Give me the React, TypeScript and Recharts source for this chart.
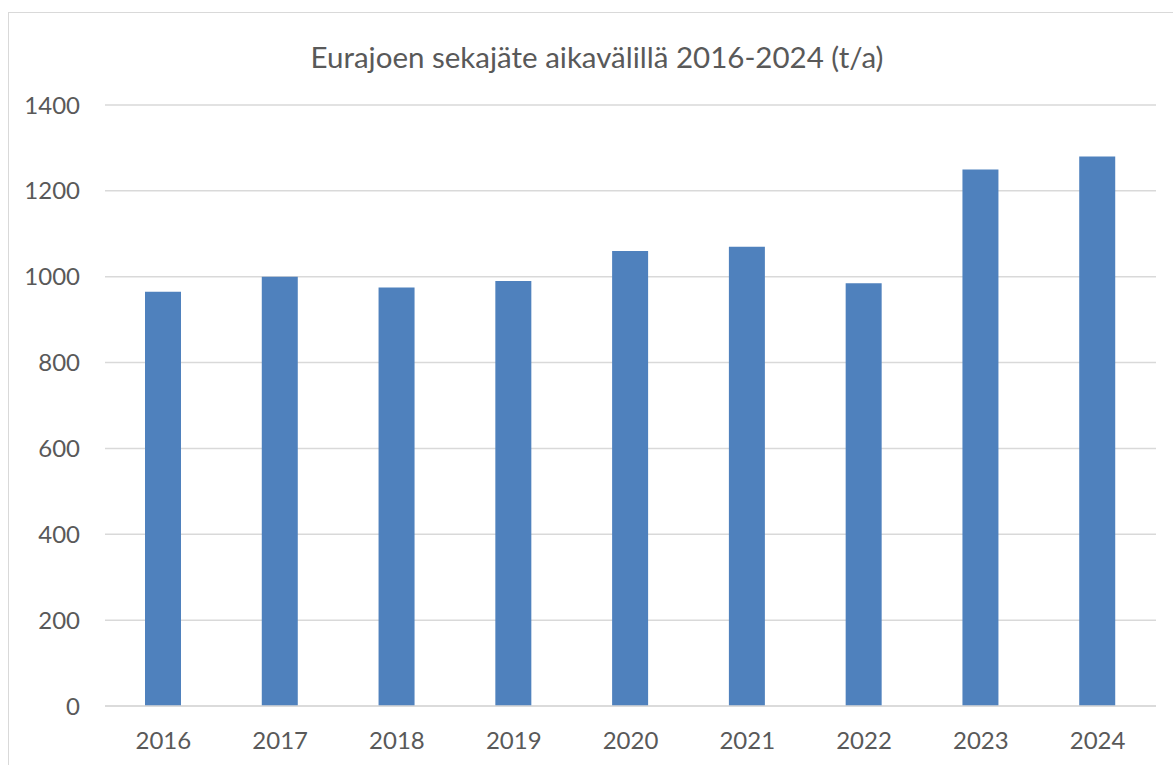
import React from 'react';
import { BarChart, Bar, XAxis, YAxis, CartesianGrid } from 'recharts';

const years = ['2016', '2017', '2018', '2019', '2020', '2021', '2022', '2023', '2024'];
const tonnes = [965, 1000, 975, 990, 1060, 1070, 985, 1250, 1280];
const yTicks = [0, 200, 400, 600, 800, 1000, 1200, 1400];

const data = years.map((year, i) => ({ year, value: tonnes[i] }));

const FONT = 'Lato, "Open Sans", sans-serif';
const TEXT = '#595959';
const GRID = '#d9d9d9';

export default function App() {
  return (
    <div
      style={{
        position: 'absolute',
        left: 8,
        top: 12,
        width: 1165,
        height: 753,
        borderTop: `1px solid ${GRID}`,
        borderLeft: `1px solid ${GRID}`,
        boxSizing: 'border-box',
        overflow: 'hidden',
        background: '#fff',
        fontFamily: FONT,
      }}
    >
      <div
        style={{
          position: 'absolute',
          left: 6,
          top: 29,
          width: 1164,
          textAlign: 'center',
          fontSize: 29.5,
          lineHeight: '30px',
          color: TEXT,
        }}
      >
        Eurajoen sekajäte aikavälillä 2016-2024 (t/a)
      </div>
      <BarChart width={1164} height={752} data={data} margin={{ top: 92, right: 17, left: 36, bottom: 19 }}>
        <CartesianGrid vertical={false} stroke={GRID} strokeWidth={1.5} />
        <XAxis
          dataKey="year"
          height={40}
          tickLine={false}
          tickSize={0}
          tickMargin={26}
          axisLine={{ stroke: GRID, strokeWidth: 1.5 }}
          tick={{ fill: TEXT, fontSize: 24, fontFamily: FONT }}
        />
        <YAxis
          width={60}
          domain={[0, 1400]}
          ticks={yTicks}
          axisLine={false}
          tickLine={false}
          tickSize={0}
          tickMargin={25}
          tick={{ fill: TEXT, fontSize: 24, fontFamily: FONT }}
        />
        <Bar dataKey="value" fill="#4f81bd" barSize={36} isAnimationActive={false} />
      </BarChart>
    </div>
  );
}
